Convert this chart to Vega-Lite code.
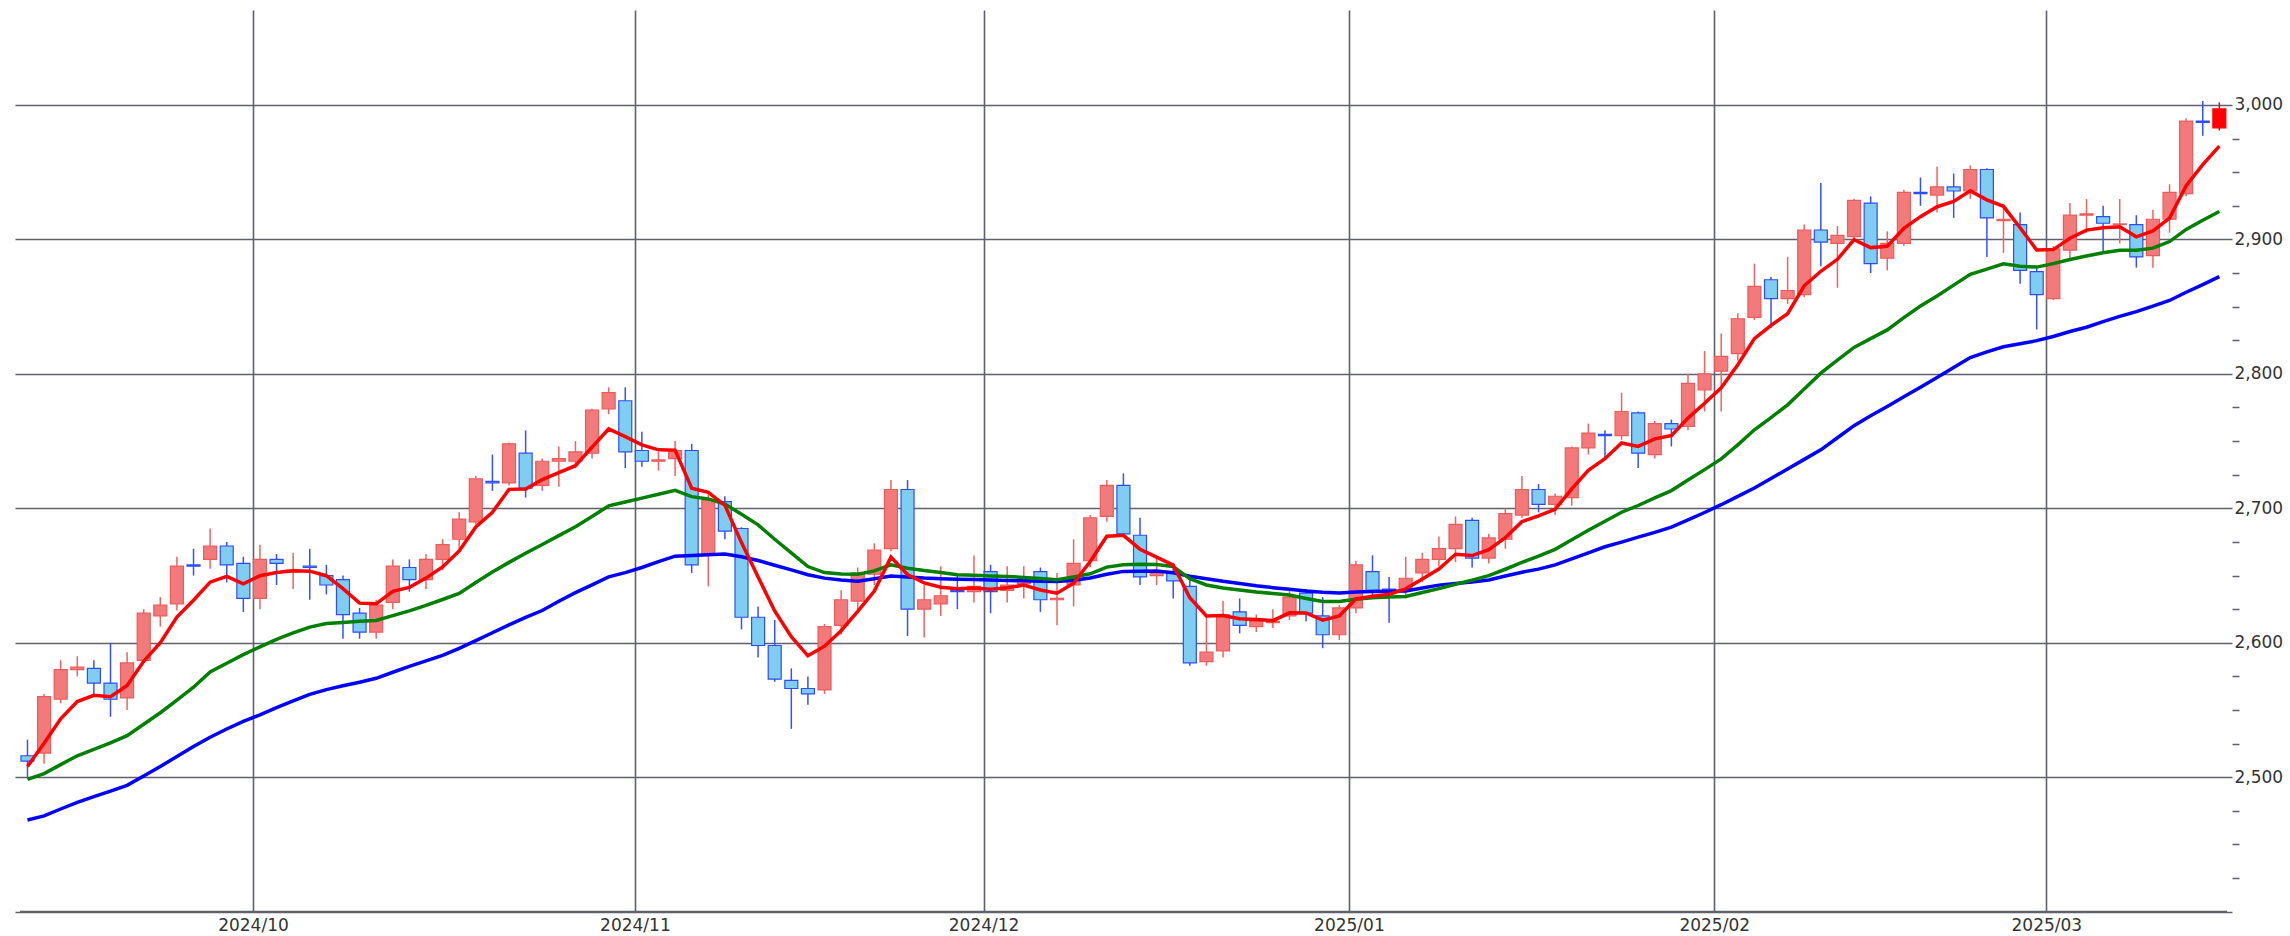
{
"$schema": "https://vega.github.io/schema/vega-lite/v6.json",
"width": 2217, "height": 902,
"autosize": {"type": "none"},
"padding": {"left": 15, "top": 10, "right": 58, "bottom": 24},
"background": "#ffffff",
"config": {"view": {"stroke": null}, "axis": {"labelFont": "DejaVu Sans", "labelFontSize": 17, "labelColor": "#333333", "domain": false, "gridColor": "#5f626e", "gridWidth": 1.6, "title": null}},
"data": {"values": [
{"i":0,"o":2516,"h":2528,"l":2500,"c":2512,"r":2508,"g":2498.5,"b":2468.2},
{"i":1,"o":2518,"h":2562,"l":2510,"c":2560,"r":2525.3,"g":2502.7,"b":2471.3},
{"i":2,"o":2558,"h":2587,"l":2555,"c":2580,"r":2543.5,"g":2509.4,"b":2476.4},
{"i":3,"o":2580,"h":2590,"l":2575,"c":2582,"r":2556.3,"g":2516,"b":2481.3},
{"i":4,"o":2581,"h":2587,"l":2562,"c":2570,"r":2560.9,"g":2520.7,"b":2485.6},
{"i":5,"o":2570,"h":2600,"l":2545,"c":2558,"r":2559.9,"g":2525.5,"b":2489.7},
{"i":6,"o":2559,"h":2593,"l":2550,"c":2585,"r":2568.3,"g":2530.9,"b":2494},
{"i":7,"o":2587,"h":2625,"l":2585,"c":2622,"r":2586.2,"g":2539.4,"b":2501},
{"i":8,"o":2620,"h":2634,"l":2612,"c":2628,"r":2600.1,"g":2548,"b":2508},
{"i":9,"o":2629,"h":2664,"l":2624,"c":2657,"r":2619.1,"g":2557.4,"b":2515.5},
{"i":10,"o":2658,"h":2670,"l":2650,"c":2657,"r":2631.7,"g":2567,"b":2522.9},
{"i":11,"o":2662,"h":2685,"l":2655,"c":2672,"r":2645.1,"g":2578.3,"b":2529.8},
{"i":12,"o":2672,"h":2675,"l":2645,"c":2658,"r":2649.4,"g":2584.8,"b":2535.9},
{"i":13,"o":2659,"h":2664,"l":2623,"c":2633,"r":2643.9,"g":2591.2,"b":2541.6},
{"i":14,"o":2633,"h":2673,"l":2625,"c":2662,"r":2649.9,"g":2597,"b":2546.4},
{"i":15,"o":2662,"h":2666,"l":2643,"c":2659,"r":2652.3,"g":2602.6,"b":2551.8},
{"i":16,"o":2653,"h":2667,"l":2640,"c":2654,"r":2653.5,"g":2607.3,"b":2556.8},
{"i":17,"o":2657,"h":2670,"l":2632,"c":2656,"r":2653.3,"g":2611.7,"b":2561.6},
{"i":18,"o":2650,"h":2658,"l":2636,"c":2643,"r":2649.9,"g":2614.3,"b":2565.2},
{"i":19,"o":2647,"h":2650,"l":2603,"c":2621,"r":2640.3,"g":2615.1,"b":2568},
{"i":20,"o":2622,"h":2626,"l":2603,"c":2608,"r":2629.5,"g":2616,"b":2570.7},
{"i":21,"o":2608,"h":2632,"l":2603,"c":2628,"r":2629,"g":2616.6,"b":2573.6},
{"i":22,"o":2630,"h":2662,"l":2625,"c":2657,"r":2638.3,"g":2620.2,"b":2578.1},
{"i":23,"o":2656,"h":2662,"l":2638,"c":2647,"r":2641.2,"g":2623.7,"b":2582.5},
{"i":24,"o":2647,"h":2666,"l":2640,"c":2662,"r":2648.1,"g":2627.9,"b":2586.5},
{"i":25,"o":2662,"h":2677,"l":2654,"c":2673,"r":2656.4,"g":2632.2,"b":2590.6},
{"i":26,"o":2677,"h":2697,"l":2670,"c":2692,"r":2668.3,"g":2636.7,"b":2595.8},
{"i":27,"o":2690,"h":2724,"l":2688,"c":2722,"r":2686.2,"g":2644.8,"b":2601.6},
{"i":28,"o":2720,"h":2740,"l":2713,"c":2719,"r":2697.1,"g":2652.7,"b":2607.5},
{"i":29,"o":2719,"h":2749,"l":2717,"c":2748,"r":2714.1,"g":2659.8,"b":2613.3},
{"i":30,"o":2741,"h":2758,"l":2708,"c":2715,"r":2714.4,"g":2666.6,"b":2618.9},
{"i":31,"o":2717,"h":2737,"l":2713,"c":2735,"r":2721.3,"g":2673.1,"b":2624},
{"i":32,"o":2735,"h":2746,"l":2716,"c":2737,"r":2726.5,"g":2679.7,"b":2630.9},
{"i":33,"o":2735,"h":2750,"l":2730,"c":2742,"r":2731.7,"g":2686.3,"b":2637.3},
{"i":34,"o":2741,"h":2774,"l":2737,"c":2773,"r":2745.5,"g":2694,"b":2643.1},
{"i":35,"o":2774,"h":2790,"l":2770,"c":2786,"r":2759,"g":2701.8,"b":2649},
{"i":36,"o":2780,"h":2790,"l":2730,"c":2742,"r":2753.3,"g":2704.7,"b":2652.2},
{"i":37,"o":2743,"h":2757,"l":2731,"c":2735,"r":2747.2,"g":2707.6,"b":2656},
{"i":38,"o":2735,"h":2742,"l":2728,"c":2736,"r":2743.5,"g":2710.5,"b":2660.3},
{"i":39,"o":2737,"h":2750,"l":2724,"c":2743,"r":2743.3,"g":2713.4,"b":2664.4},
{"i":40,"o":2743,"h":2748,"l":2652,"c":2658,"r":2714.9,"g":2708.7,"b":2665},
{"i":41,"o":2666,"h":2710,"l":2642,"c":2706,"r":2711.9,"g":2707,"b":2665.5},
{"i":42,"o":2705,"h":2709,"l":2677,"c":2683,"r":2702.3,"g":2703.2,"b":2666},
{"i":43,"o":2685,"h":2686,"l":2610,"c":2619,"r":2674.5,"g":2695.6,"b":2664},
{"i":44,"o":2619,"h":2627,"l":2589,"c":2598,"r":2649,"g":2687.7,"b":2661.2},
{"i":45,"o":2598,"h":2617,"l":2571,"c":2573,"r":2623.7,"g":2677,"b":2657.7},
{"i":46,"o":2572,"h":2581,"l":2536,"c":2566,"r":2604.5,"g":2666.9,"b":2654.2},
{"i":47,"o":2566,"h":2575,"l":2554,"c":2562,"r":2590.3,"g":2656.7,"b":2650.6},
{"i":48,"o":2565,"h":2614,"l":2562,"c":2612,"r":2597.5,"g":2652.2,"b":2648.1},
{"i":49,"o":2613,"h":2639,"l":2606,"c":2632,"r":2609,"g":2651.1,"b":2646.7},
{"i":50,"o":2631,"h":2656,"l":2625,"c":2652,"r":2623.3,"g":2651,"b":2645.7},
{"i":51,"o":2651,"h":2674,"l":2643,"c":2669,"r":2638.5,"g":2653.5,"b":2647.6},
{"i":52,"o":2670,"h":2721,"l":2668,"c":2714,"r":2663.7,"g":2658,"b":2649.6},
{"i":53,"o":2714,"h":2721,"l":2605,"c":2625,"r":2650.8,"g":2655.5,"b":2648.9},
{"i":54,"o":2625,"h":2643,"l":2604,"c":2632,"r":2644.5,"g":2653.8,"b":2648.1},
{"i":55,"o":2629,"h":2657,"l":2620,"c":2635,"r":2641.3,"g":2652.2,"b":2647.6},
{"i":56,"o":2639,"h":2650,"l":2625,"c":2638,"r":2640.2,"g":2650.6,"b":2647.3},
{"i":57,"o":2638,"h":2665,"l":2630,"c":2642,"r":2640.8,"g":2650.2,"b":2647},
{"i":58,"o":2653,"h":2658,"l":2622,"c":2638,"r":2639.9,"g":2649.7,"b":2646.7},
{"i":59,"o":2639,"h":2657,"l":2630,"c":2643,"r":2640.9,"g":2649.3,"b":2646.4},
{"i":60,"o":2644,"h":2657,"l":2633,"c":2647,"r":2642.9,"g":2648.6,"b":2646.1},
{"i":61,"o":2653,"h":2656,"l":2623,"c":2632,"r":2639.3,"g":2647.8,"b":2645.8},
{"i":62,"o":2632,"h":2652,"l":2613,"c":2633,"r":2636.9,"g":2646.9,"b":2645.5},
{"i":63,"o":2643,"h":2677,"l":2627,"c":2659,"r":2644.3,"g":2649,"b":2646.5},
{"i":64,"o":2661,"h":2695,"l":2656,"c":2693,"r":2660.5,"g":2651.3,"b":2648.2},
{"i":65,"o":2694,"h":2721,"l":2690,"c":2717,"r":2679.3,"g":2656.3,"b":2651},
{"i":66,"o":2717,"h":2726,"l":2679,"c":2681,"r":2679.9,"g":2658,"b":2653.1},
{"i":67,"o":2680,"h":2693,"l":2643,"c":2649,"r":2669.6,"g":2658.5,"b":2653.2},
{"i":68,"o":2650,"h":2663,"l":2643,"c":2652,"r":2663.7,"g":2658.3,"b":2653.4},
{"i":69,"o":2652,"h":2659,"l":2633,"c":2646,"r":2657.8,"g":2656.7,"b":2652.1},
{"i":70,"o":2642,"h":2648,"l":2583,"c":2585,"r":2633.5,"g":2647.7,"b":2649.5},
{"i":71,"o":2586,"h":2620,"l":2583,"c":2593,"r":2620,"g":2643,"b":2647.6},
{"i":72,"o":2594,"h":2631,"l":2589,"c":2621,"r":2620.3,"g":2640.8,"b":2645.7},
{"i":73,"o":2623,"h":2633,"l":2607,"c":2613,"r":2617.9,"g":2639.2,"b":2644.1},
{"i":74,"o":2612,"h":2621,"l":2608,"c":2616,"r":2617.3,"g":2637.8,"b":2642.4},
{"i":75,"o":2615,"h":2625,"l":2611,"c":2616,"r":2616.5,"g":2636.7,"b":2641},
{"i":76,"o":2620,"h":2639,"l":2617,"c":2634,"r":2622.3,"g":2635.5,"b":2639.8},
{"i":77,"o":2637,"h":2640,"l":2616,"c":2622,"r":2622.2,"g":2633,"b":2638.5},
{"i":78,"o":2620,"h":2634,"l":2596,"c":2606,"r":2616.8,"g":2630.7,"b":2637.6},
{"i":79,"o":2606,"h":2628,"l":2602,"c":2626,"r":2619.9,"g":2630.7,"b":2637},
{"i":80,"o":2626,"h":2661,"l":2622,"c":2658,"r":2632.6,"g":2632.4,"b":2637.7},
{"i":81,"o":2653,"h":2665,"l":2635,"c":2639,"r":2634.7,"g":2633.5,"b":2638.1},
{"i":82,"o":2640,"h":2649,"l":2615,"c":2639,"r":2636.1,"g":2634,"b":2638.4},
{"i":83,"o":2639,"h":2664,"l":2633,"c":2648,"r":2640.1,"g":2634.5,"b":2638.5},
{"i":84,"o":2652,"h":2667,"l":2645,"c":2662,"r":2647.4,"g":2637.4,"b":2640.7},
{"i":85,"o":2662,"h":2679,"l":2657,"c":2670,"r":2654.9,"g":2640.3,"b":2642.9},
{"i":86,"o":2670,"h":2694,"l":2660,"c":2688,"r":2665.9,"g":2643.5,"b":2644.1},
{"i":87,"o":2691,"h":2693,"l":2656,"c":2663,"r":2664.9,"g":2646.6,"b":2645.2},
{"i":88,"o":2663,"h":2681,"l":2659,"c":2678,"r":2669.3,"g":2649.9,"b":2646.7},
{"i":89,"o":2677,"h":2700,"l":2670,"c":2696,"r":2678.2,"g":2654.7,"b":2649.7},
{"i":90,"o":2695,"h":2724,"l":2693,"c":2714,"r":2690.1,"g":2659.8,"b":2652.5},
{"i":91,"o":2714,"h":2718,"l":2697,"c":2703,"r":2694.4,"g":2664.4,"b":2654.8},
{"i":92,"o":2703,"h":2711,"l":2695,"c":2709,"r":2699.3,"g":2669.5,"b":2657.9},
{"i":93,"o":2708,"h":2746,"l":2702,"c":2745,"r":2714.5,"g":2676.7,"b":2662.4},
{"i":94,"o":2745,"h":2763,"l":2740,"c":2756,"r":2728.3,"g":2683.7,"b":2666.9},
{"i":95,"o":2755,"h":2758,"l":2738,"c":2754,"r":2736.9,"g":2690.4,"b":2671.4},
{"i":96,"o":2754,"h":2786,"l":2751,"c":2772,"r":2748.6,"g":2697.1,"b":2674.9},
{"i":97,"o":2771,"h":2772,"l":2730,"c":2741,"r":2746.1,"g":2702.1,"b":2678.6},
{"i":98,"o":2740,"h":2765,"l":2737,"c":2763,"r":2751.7,"g":2707.8,"b":2682.1},
{"i":99,"o":2763,"h":2766,"l":2746,"c":2759,"r":2754.1,"g":2713.2,"b":2686},
{"i":100,"o":2761,"h":2800,"l":2758,"c":2793,"r":2767.1,"g":2721,"b":2691.4},
{"i":101,"o":2788,"h":2817,"l":2772,"c":2800,"r":2778.1,"g":2728.8,"b":2696.9},
{"i":102,"o":2802,"h":2830,"l":2772,"c":2813,"r":2789.7,"g":2736.8,"b":2702.7},
{"i":103,"o":2815,"h":2845,"l":2810,"c":2841,"r":2806.8,"g":2747.2,"b":2708.9},
{"i":104,"o":2842,"h":2882,"l":2840,"c":2865,"r":2826.2,"g":2758.4,"b":2715.1},
{"i":105,"o":2870,"h":2872,"l":2834,"c":2856,"r":2836.1,"g":2767.5,"b":2722.2},
{"i":106,"o":2856,"h":2887,"l":2852,"c":2862,"r":2844.7,"g":2777,"b":2729.3},
{"i":107,"o":2859,"h":2911,"l":2857,"c":2907,"r":2865.5,"g":2788.7,"b":2736.4},
{"i":108,"o":2907,"h":2942,"l":2880,"c":2898,"r":2876.3,"g":2800.5,"b":2743.5},
{"i":109,"o":2897,"h":2910,"l":2864,"c":2903,"r":2885.2,"g":2810.2,"b":2752.5},
{"i":110,"o":2902,"h":2930,"l":2900,"c":2929,"r":2899.8,"g":2819.7,"b":2761.5},
{"i":111,"o":2927,"h":2932,"l":2875,"c":2882,"r":2893.9,"g":2826.2,"b":2768.8},
{"i":112,"o":2886,"h":2906,"l":2877,"c":2897,"r":2894.9,"g":2832.7,"b":2775.7},
{"i":113,"o":2897,"h":2937,"l":2895,"c":2935,"r":2908.3,"g":2841.8,"b":2782.9},
{"i":114,"o":2935,"h":2946,"l":2925,"c":2934,"r":2916.9,"g":2850.5,"b":2790.1},
{"i":115,"o":2933,"h":2954,"l":2920,"c":2939,"r":2924.3,"g":2857.9,"b":2797.3},
{"i":116,"o":2939,"h":2949,"l":2916,"c":2936,"r":2928.2,"g":2866,"b":2804.7},
{"i":117,"o":2936,"h":2955,"l":2930,"c":2952,"r":2936.1,"g":2874,"b":2812.1},
{"i":118,"o":2952,"h":2953,"l":2887,"c":2916,"r":2929.4,"g":2877.9,"b":2816.4},
{"i":119,"o":2914,"h":2926,"l":2890,"c":2915,"r":2924.6,"g":2881.8,"b":2820.2},
{"i":120,"o":2911,"h":2920,"l":2867,"c":2877,"r":2908.7,"g":2880,"b":2822.4},
{"i":121,"o":2876,"h":2880,"l":2833,"c":2859,"r":2892.1,"g":2879.4,"b":2824.7},
{"i":122,"o":2856,"h":2895,"l":2855,"c":2893,"r":2892.4,"g":2882,"b":2827.8},
{"i":123,"o":2892,"h":2927,"l":2886,"c":2918,"r":2900.9,"g":2885.1,"b":2831.5},
{"i":124,"o":2918,"h":2930,"l":2905,"c":2919,"r":2906.9,"g":2887.7,"b":2834.7},
{"i":125,"o":2917,"h":2925,"l":2891,"c":2912,"r":2908.6,"g":2890,"b":2838.9},
{"i":126,"o":2911,"h":2930,"l":2897,"c":2911.5,"r":2909.4,"g":2892,"b":2842.7},
{"i":127,"o":2911,"h":2918,"l":2879,"c":2887,"r":2901.9,"g":2892,"b":2846.3},
{"i":128,"o":2888,"h":2922,"l":2879,"c":2915,"r":2906.3,"g":2893.5,"b":2850.4},
{"i":129,"o":2915,"h":2941,"l":2905,"c":2935,"r":2915.9,"g":2898.4,"b":2854.6},
{"i":130,"o":2934,"h":2990,"l":2932,"c":2988,"r":2939.9,"g":2907.4,"b":2860.7},
{"i":131,"o":2988,"h":3003,"l":2977,"c":2987,"r":2955.6,"g":2914.2,"b":2866.4},
{"i":132,"o":2983,"h":3002,"l":2981,"c":2997,"r":2969.4,"g":2920.7,"b":2872.3}
]},
"encoding": {
  "x": {"field": "i", "type": "quantitative",
    "scale": {"domain": [-0.45, 132.46], "nice": false, "zero": false},
    "axis": {"title": null, "values": [13.58, 36.58, 57.58, 79.58, 101.58, 121.58], "tickCount": 50,
      "labelExpr": "datum.value < 20 ? '2024/10' : datum.value < 40 ? '2024/11' : datum.value < 60 ? '2024/12' : datum.value < 90 ? '2025/01' : datum.value < 110 ? '2025/02' : '2025/03'",
      "grid": true, "ticks": false, "domain": false, "labelPadding": 5, "labelFlush": false, "labelOverlap": false}}
},
"layer": [
  {"mark": {"type": "rule", "strokeWidth": 1.5},
   "encoding": {
     "y": {"field": "l", "type": "quantitative", "scale": {"domain": [2399.8, 3070.6], "nice": false, "zero": false},
       "axis": {"title": null, "orient": "right",
         "values": [2400,2425,2450,2475,2500,2525,2550,2575,2600,2625,2650,2675,2700,2725,2750,2775,2800,2825,2850,2875,2900,2925,2950,2975,3000],
         "tickCount": 100,
         "grid": true,
         "gridOpacity": {"condition": {"test": "datum.value % 100 === 0", "value": 1}, "value": 0},
         "ticks": true, "tickSize": 7, "tickWidth": 1.5,
         "tickOpacity": {"condition": {"test": "datum.value % 100 === 0", "value": 0}, "value": 1},
         "tickColor": "#5f626e",
         "labelExpr": "datum.value % 100 === 0 && datum.value > 2400 ? format(datum.value, ',') : ''",
         "labelPadding": -5, "labelAlign": "left", "labelBaseline": "middle", "labelOverlap": false, "labelFlush": false, "labelFontSize": 17, "labelFont": "DejaVu Sans", "labelColor": "#333333", "domain": false}},
     "y2": {"field": "h"},
     "stroke": {"condition": [{"test": "datum.i === 132", "value": "#ff0000"}, {"test": "datum.c >= datum.o", "value": "#f06262"}], "value": "#3450ff"}
   }},
  {"data": {"values": [{"base": 2400, "x0": -0.45, "x1": 132.46}]},
   "mark": {"type": "rule", "color": "#5f626e", "strokeWidth": 2},
   "encoding": {
     "x": {"field": "x0", "type": "quantitative", "scale": {"domain": [-0.45, 132.46], "nice": false, "zero": false}},
     "x2": {"field": "x1"},
     "y": {"field": "base", "type": "quantitative", "scale": {"domain": [2399.8, 3070.6], "nice": false, "zero": false}}}},
  {"mark": {"type": "bar", "width": 13, "strokeWidth": 1.2, "orient": "vertical"},
   "encoding": {
     "y": {"field": "o", "type": "quantitative", "scale": {"domain": [2399.8, 3070.6], "nice": false, "zero": false}},
     "y2": {"field": "c"},
     "fill": {"condition": [{"test": "datum.i === 132", "value": "#ff0000"}, {"test": "datum.c >= datum.o", "value": "#f27a7a"}], "value": "#7fcdf0"},
     "stroke": {"condition": [{"test": "datum.i === 132", "value": "#ff0000"}, {"test": "datum.c >= datum.o", "value": "#ea5c5c"}], "value": "#2e4cff"}
   }},
  {"mark": {"type": "line", "color": "#0000ff", "strokeWidth": 3.5},
   "encoding": {"y": {"field": "b", "type": "quantitative", "scale": {"domain": [2399.8, 3070.6], "nice": false, "zero": false}}}},
  {"mark": {"type": "line", "color": "#008000", "strokeWidth": 3.5},
   "encoding": {"y": {"field": "g", "type": "quantitative", "scale": {"domain": [2399.8, 3070.6], "nice": false, "zero": false}}}},
  {"mark": {"type": "line", "color": "#ff0000", "strokeWidth": 3.5},
   "encoding": {"y": {"field": "r", "type": "quantitative", "scale": {"domain": [2399.8, 3070.6], "nice": false, "zero": false}}}}
]
}
